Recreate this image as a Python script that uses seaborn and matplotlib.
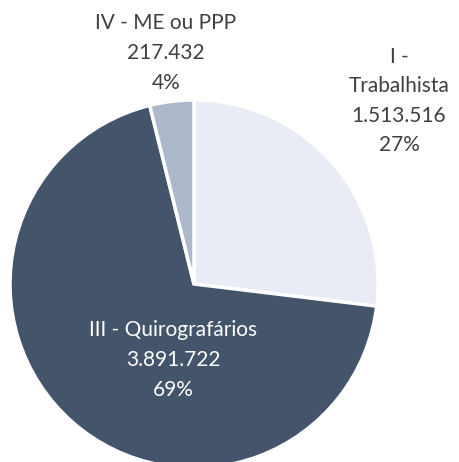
import matplotlib
matplotlib.use("Agg")
import matplotlib.pyplot as plt
import seaborn as sns
import numpy as np

categories = ["I - Trabalhista", "III - Quirografários", "IV - ME ou PPP"]
values = [1513516, 3891722, 217432]
value_labels = ["1.513.516", "3.891.722", "217.432"]
colors = ["#E9EBF5", "#44546A", "#ADB9CA"]

sns.set_theme(style="white")
plt.rcParams["font.family"] = ["Lato", "DejaVu Sans"]

W, H = 459, 462
fig = plt.figure(figsize=(W / 100, H / 100), dpi=100)
ax = fig.add_axes([0, 0, 1, 1])

cx, cy, r = 194, H - 284, 184
wedges, _ = ax.pie(values, colors=colors, startangle=90, counterclock=False,
                   center=(cx, cy), radius=r,
                   wedgeprops=dict(edgecolor="white", linewidth=2.5))
ax.set_xlim(0, W)
ax.set_ylim(0, H)
ax.set_aspect("auto")
ax.axis("off")

total = sum(values)
pcts = [f"{round(v / total * 100):.0f}%" for v in values]

# label text layout (pixel positions of text centres)
label_text = [
    "I -\nTrabalhista\n" + value_labels[0] + "\n" + pcts[0],
    categories[1] + "\n" + value_labels[1] + "\n" + pcts[1],
    categories[2] + "\n" + value_labels[2] + "\n" + pcts[2],
]
label_pos = [(399, 101), (173, 360), (166, 53)]
label_col = ["#404040", "white", "#404040"]
for t, (px, py), c in zip(label_text, label_pos, label_col):
    ax.text(px, H - py, t, ha="center", va="center", color=c,
            fontsize=15, linespacing=1.6)

fig.savefig("out.png", dpi=100)
